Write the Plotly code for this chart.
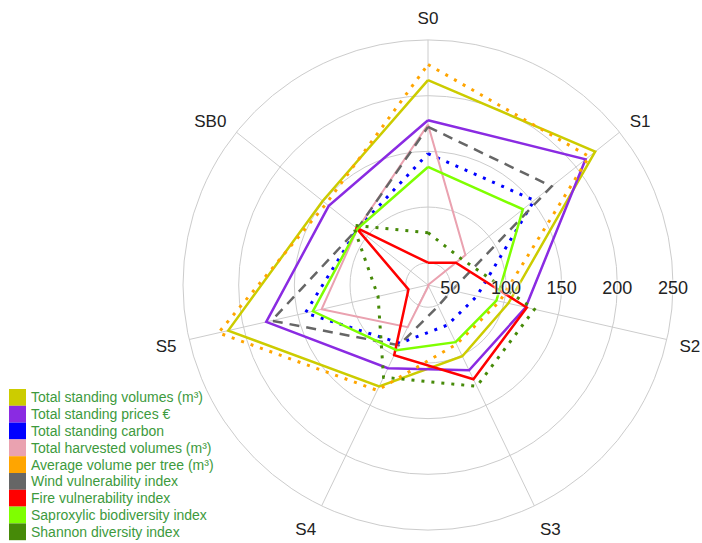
import plotly.graph_objects as go

# Scenario axes of the radar chart
scenarios = ["S0", "S1", "S2", "S3", "S4", "S5", "SB0"]

# Indicator values per scenario (same order as `scenarios`)
standing_volumes = [214, 222, 104, 101, 131, 214, 151]
standing_prices = [178, 211, 120, 115, 113, 179, 144]
standing_carbon = [148, 152, 75, 70, 88, 143, 111]
harvested_volumes = [174, 73, 30, 31, 72, 128, 111]
avg_volume_tree = [228, 215, 96, 89, 135, 223, 147]
wind_vulnerability = [172, 172, 52, 51, 90, 174, 111]
fire_vulnerability = [50, 62, 121, 124, 100, 48, 113]
saproxylic_index = [136, 139, 93, 87, 95, 136, 111]
shannon_index = [77, 68, 128, 131, 122, 76, 116]

radial_ticks = [50, 100, 150, 200, 250]
radial_range = [30, 250]

series = [
    ("Total standing volumes (m³)", standing_volumes, "#cccc00", "solid", 2.5),
    ("Total standing prices €", standing_prices, "#8a2be2", "solid", 2.5),
    ("Total standing carbon", standing_carbon, "#0000ff", "3px,7px", 3),
    ("Total harvested volumes (m³)", harvested_volumes, "#eaa2b0", "solid", 2),
    ("Average volume per tree (m³)", avg_volume_tree, "#ffa500", "3px,7px", 3),
    ("Wind vulnerability index", wind_vulnerability, "#666666", "10px,7px", 2.5),
    ("Fire vulnerability index", fire_vulnerability, "#ff0000", "solid", 2.5),
    ("Saproxylic biodiversity index", saproxylic_index, "#7fff00", "solid", 2.5),
    ("Shannon diversity index", shannon_index, "#468a08", "3px,7px", 3),
]

W, H = 702, 543
cx, cy, R = 428, 285, 245
font_family = "Liberation Sans, Arial"


def polar_domain(dy=0):
    """Square domain centred on (cx, cy + dy) in pixel terms."""
    return dict(x=[(cx - R) / W, (cx + R) / W],
                y=[1 - (cy + dy + R) / H, 1 - (cy + dy - R) / H])


fig = go.Figure()
for name, vals, color, dash, width in series:
    fig.add_trace(go.Scatterpolar(
        r=vals + vals[:1],
        theta=scenarios + scenarios[:1],
        mode="lines",
        name=name,
        line=dict(color=color, dash=dash, width=width),
        showlegend=False,
        subplot="polar",
    ))

# Radial scale labels, laid out horizontally to the right of the centre
fig.add_trace(go.Scatterpolar(
    r=radial_ticks,
    theta=[0] * len(radial_ticks),
    mode="text",
    text=[str(v) for v in radial_ticks],
    textposition="middle center",
    textfont=dict(family=font_family, size=18, color="#222222",
                  shadow="0px 0px 2px white, 0px 0px 3px white, 0px 0px 3px white"),
    showlegend=False,
    hoverinfo="skip",
    subplot="polar2",
))

# Legend: stacked colour swatches with labels at the lower left
row_h = 16.8
top = 389
shapes, annotations = [], []
for i, (name, vals, color, dash, width) in enumerate(series):
    y0 = top + i * row_h
    shapes.append(dict(
        type="rect", xref="paper", yref="paper",
        x0=9 / W, x1=26 / W,
        y0=1 - (y0 + row_h) / H, y1=1 - y0 / H,
        fillcolor=color, line=dict(width=0),
    ))
    annotations.append(dict(
        text=name, xref="paper", yref="paper",
        x=29 / W, y=1 - (y0 + row_h / 2) / H,
        xanchor="left", yanchor="middle", showarrow=False,
        font=dict(family=font_family, size=14, color="#3d9a3d"),
    ))

fig.update_layout(
    width=W, height=H,
    margin=dict(l=0, r=0, t=0, b=0),
    paper_bgcolor="white",
    showlegend=False,
    shapes=shapes,
    annotations=annotations,
    polar=dict(
        domain=polar_domain(),
        bgcolor="white",
        angularaxis=dict(
            direction="clockwise", rotation=90,
            categoryorder="array", categoryarray=scenarios,
            showline=True, linecolor="#cccccc", linewidth=1,
            gridcolor="#cccccc", gridwidth=1,
            ticks="outside", ticklen=9, tickcolor="rgba(0,0,0,0)",
            tickfont=dict(family=font_family, size=17, color="#222222"),
        ),
        radialaxis=dict(
            range=radial_range, tickvals=radial_ticks,
            angle=0, showline=False, ticks="", showticklabels=False,
            gridcolor="#cccccc", gridwidth=1,
        ),
    ),
    polar2=dict(
        domain=polar_domain(dy=4),
        bgcolor="rgba(0,0,0,0)",
        angularaxis=dict(visible=False, rotation=0, direction="counterclockwise"),
        radialaxis=dict(visible=False, range=radial_range),
    ),
)

fig.write_html("out.html")
